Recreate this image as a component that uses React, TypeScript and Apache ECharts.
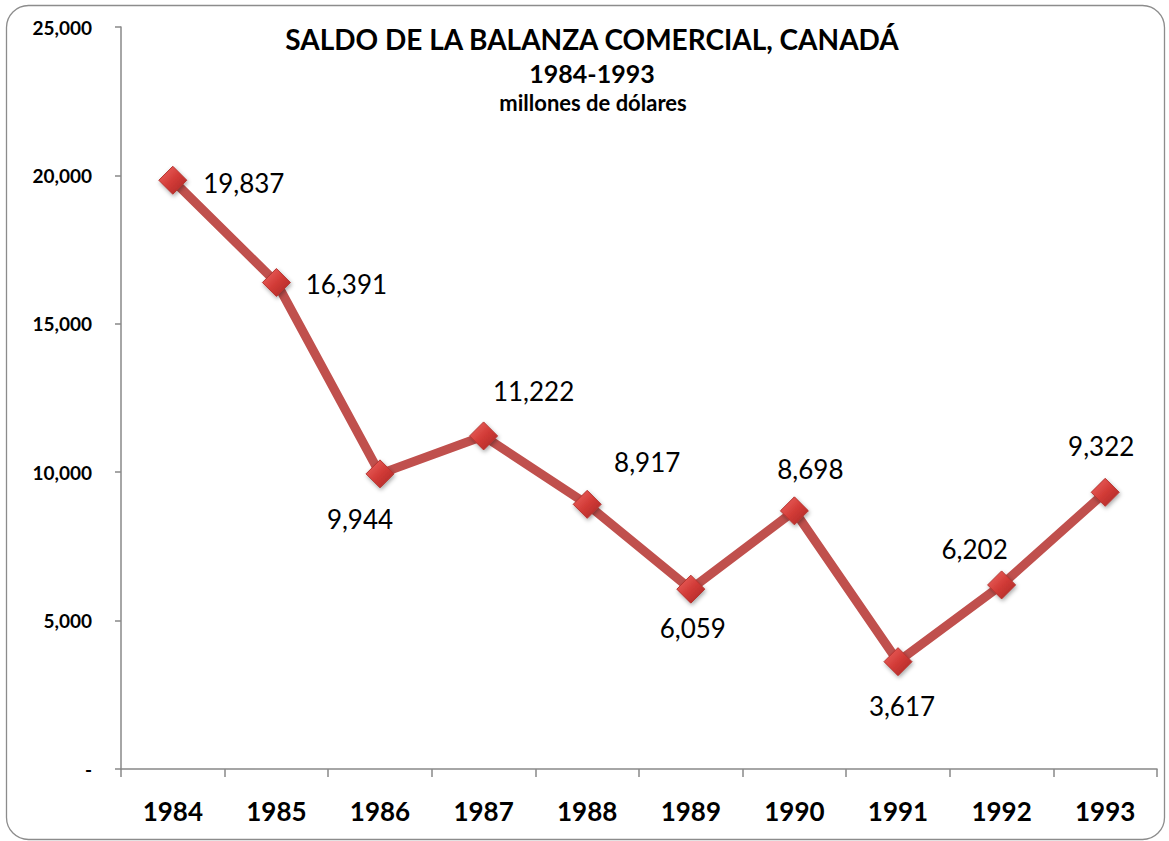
import React, { useEffect, useRef } from "react";
import * as echarts from "echarts";

const years = ["1984", "1985", "1986", "1987", "1988", "1989", "1990", "1991", "1992", "1993"];
const saldo = [19837, 16391, 9944, 11222, 8917, 6059, 8698, 3617, 6202, 9322];
// label offsets [dx, dy] relative to each point
const labelOffsets: number[][] = [
  [71, 3], [70, 1], [-20, 45], [50, -45], [60, -42], [2, 39], [16, -42], [4, 44], [-27, -36], [-4, -46],
];
const titleLines = ["SALDO DE LA BALANZA COMERCIAL, CANADÁ", "1984-1993", "millones de dólares"];

const fmt = (v: number) => (v === 0 ? "-" : v.toLocaleString("en-US"));
const FONT = "Lato, 'Open Sans', sans-serif";

export default function App() {
  const ref = useRef<HTMLDivElement>(null);
  useEffect(() => {
    if (!ref.current) return;
    const chart = echarts.init(ref.current, undefined, { renderer: "svg" });
    chart.setOption({
      animation: false,
      backgroundColor: "#ffffff",
      graphic: [
        {
          type: "rect",
          shape: { x: 6.5, y: 5.5, width: 1158, height: 834, r: 22 },
          style: { fill: "none", stroke: "#8c8c8c", lineWidth: 1.3 },
          z: 0,
        },
        {
          type: "text",
          x: 592,
          y: 25,
          style: {
            text: titleLines[0],
            align: "center",
            font: `bold 28px ${FONT}`,
            fill: "#000",
          },
        },
        {
          type: "text",
          x: 592,
          y: 60,
          style: {
            text: titleLines[1],
            align: "center",
            font: `bold 25px ${FONT}`,
            fill: "#000",
          },
        },
        {
          type: "text",
          x: 593,
          y: 91,
          style: {
            text: titleLines[2],
            align: "center",
            font: `bold 22px ${FONT}`,
            fill: "#000",
          },
        },
      ],
      grid: { left: 121, right: 12, top: 27, bottom: 72, containLabel: false },
      xAxis: {
        type: "category",
        data: years,
        boundaryGap: true,
        axisLine: { lineStyle: { color: "#888888", width: 1.5 } },
        axisTick: { show: true, length: 8, alignWithLabel: false, lineStyle: { color: "#888888", width: 1.5 } },
        axisLabel: {
          margin: 29,
          color: "#000",
          fontFamily: FONT,
          fontWeight: "bold",
          fontSize: 26,
        },
        splitLine: { show: false },
      },
      yAxis: {
        type: "value",
        min: 0,
        max: 25000,
        interval: 5000,
        axisLine: { show: true, lineStyle: { color: "#888888", width: 1.5 } },
        axisTick: { show: true, length: 6, lineStyle: { color: "#888888", width: 1.5 } },
        axisLabel: {
          margin: 29,
          color: "#000",
          fontFamily: FONT,
          fontWeight: "bold",
          fontSize: 19,
          formatter: (v: number) => fmt(v),
        },
        splitLine: { show: false },
      },
      series: [
        {
          type: "line",
          data: saldo.map((v, i) => ({
            value: v,
            label: {
              show: true,
              position: "inside",
              offset: labelOffsets[i],
            },
          })),
          lineStyle: { color: "#c0504d", width: 9 },
          symbol: "diamond",
          symbolSize: 28,
          itemStyle: {
            color: new echarts.graphic.LinearGradient(0, 0, 1, 1, [
              { offset: 0, color: "#ef6a66" },
              { offset: 0.5, color: "#d23b37" },
              { offset: 1, color: "#a82724" },
            ]),
            borderColor: "#b53430",
            borderWidth: 1,
            shadowColor: "rgba(0,0,0,0.35)",
            shadowBlur: 4,
            shadowOffsetX: 1,
            shadowOffsetY: 2,
          },
          label: {
            show: true,
            color: "#000",
            fontFamily: FONT,
            fontSize: 26,
            formatter: (p: any) => fmt(p.value),
          },
          z: 3,
        },
      ],
    });
    return () => chart.dispose();
  }, []);
  return (
    <div
      ref={ref}
      style={{ position: "absolute", left: 0, top: 0, width: 1169, height: 841 }}
    />
  );
}
